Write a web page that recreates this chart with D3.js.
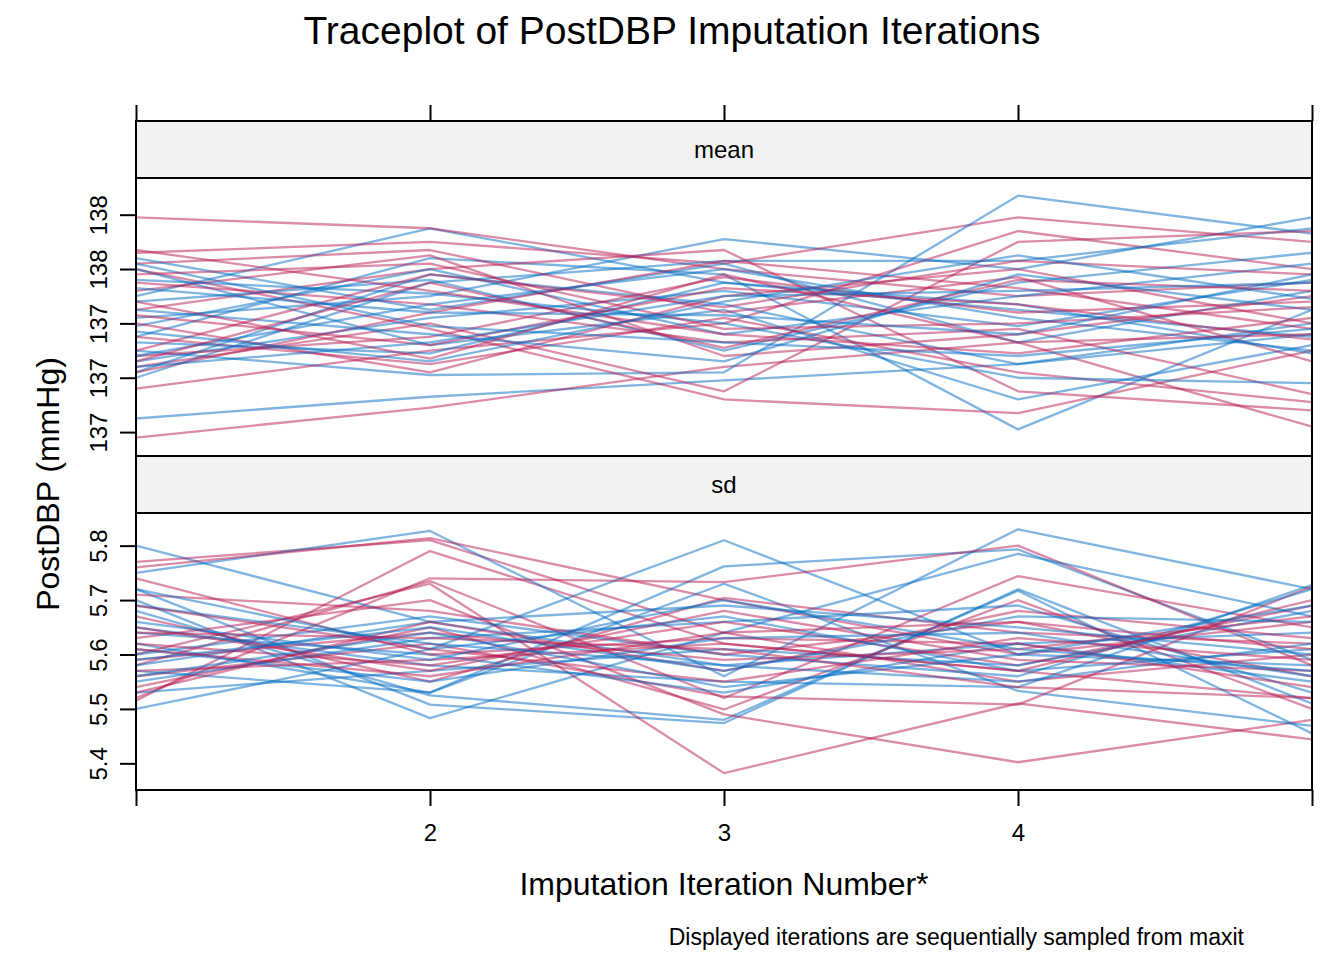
<!DOCTYPE html>
<html>
<head>
<meta charset="utf-8">
<script src="https://cdn.jsdelivr.net/npm/d3@7"></script>
<style>
  body { margin: 0; background: #fff; }
  svg text { font-family: "Liberation Sans", Arial, Helvetica, sans-serif; fill: #000; }
</style>
</head>
<body>
<div id="chart"></div>
<script>
const iterations = [1, 2, 3, 4, 5]
const xTickLabels = [2, 3, 4]
const chainColors = ['#006CC2', '#B61A51']

const meanTicks = [137.0, 137.2, 137.4, 137.6, 137.8]
const sdTicks = [5.4, 5.5, 5.6, 5.7, 5.8]

// one row per imputation chain, values at iterations 1..5
const meanChains = [
  [137.05, 137.13, 137.19, 137.25, 137.40],
  [136.98, 137.09, 137.24, 137.33, 137.02],
  [137.50, 137.75, 137.55, 137.45, 137.35],
  [137.79, 137.75, 137.60, 137.50, 137.55],
  [137.42, 137.50, 137.71, 137.60, 137.79],
  [137.66, 137.70, 137.62, 137.79, 137.70],
  [137.30, 137.21, 137.22, 137.87, 137.73],
  [137.16, 137.30, 137.40, 137.74, 137.60],
  [137.20, 137.55, 137.63, 137.63, 137.75],
  [137.24, 137.40, 137.15, 137.70, 137.74],
  [137.35, 137.64, 137.58, 137.01, 137.45],
  [137.60, 137.38, 137.12, 137.07, 137.30],
  [137.60, 137.32, 137.45, 137.12, 137.32],
  [137.45, 137.60, 137.67, 137.15, 137.08],
  [137.22, 137.58, 137.47, 137.25, 137.36],
  [137.35, 137.25, 137.42, 137.22, 137.11],
  [137.48, 137.56, 137.30, 137.55, 137.66],
  [137.55, 137.47, 137.33, 137.38, 137.14],
  [137.26, 137.42, 137.52, 137.39, 137.56],
  [137.62, 137.67, 137.44, 137.57, 137.26],
  [137.39, 137.60, 137.36, 137.50, 137.62],
  [137.28, 137.35, 137.57, 137.44, 137.48],
  [137.64, 137.45, 137.62, 137.33, 137.52],
  [137.40, 137.22, 137.50, 137.60, 137.40],
  [137.33, 137.29, 137.55, 137.47, 137.29],
  [137.52, 137.65, 137.28, 137.36, 137.50],
  [137.56, 137.51, 137.40, 137.20, 137.18],
  [137.22, 137.44, 137.63, 137.53, 137.38],
  [137.45, 137.36, 137.26, 137.58, 137.45],
  [137.67, 137.52, 137.36, 137.29, 137.42],
  [137.28, 137.47, 137.60, 137.42, 137.30],
  [137.30, 137.58, 137.46, 137.63, 137.58],
  [137.62, 137.39, 137.33, 137.28, 137.38],
  [137.43, 137.32, 137.53, 137.47, 137.34],
  [137.37, 137.26, 137.48, 137.65, 137.49],
  [137.58, 137.62, 137.38, 137.40, 137.46],
  [137.53, 137.44, 137.43, 137.36, 137.58],
  [137.26, 137.55, 137.31, 137.56, 137.52],
  [137.24, 137.33, 137.50, 137.52, 137.55],
  [137.48, 137.27, 137.58, 137.33, 137.36]
]

const sdChains = [
  [5.80, 5.66, 5.58, 5.62, 5.55],
  [5.77, 5.81, 5.64, 5.55, 5.60],
  [5.50, 5.61, 5.81, 5.60, 5.58],
  [5.515, 5.79, 5.62, 5.57, 5.52],
  [5.75, 5.827, 5.56, 5.83, 5.72],
  [5.76, 5.814, 5.70, 5.60, 5.66],
  [5.62, 5.53, 5.762, 5.793, 5.59],
  [5.52, 5.74, 5.733, 5.80, 5.58],
  [5.70, 5.483, 5.64, 5.785, 5.67],
  [5.58, 5.735, 5.52, 5.744, 5.65],
  [5.72, 5.508, 5.474, 5.72, 5.51],
  [5.60, 5.73, 5.382, 5.51, 5.444],
  [5.68, 5.525, 5.48, 5.717, 5.455],
  [5.63, 5.70, 5.49, 5.402, 5.48],
  [5.57, 5.53, 5.73, 5.533, 5.469],
  [5.54, 5.65, 5.499, 5.70, 5.50],
  [5.65, 5.58, 5.55, 5.54, 5.728],
  [5.56, 5.62, 5.523, 5.508, 5.725],
  [5.60, 5.67, 5.60, 5.56, 5.72],
  [5.67, 5.55, 5.704, 5.64, 5.62],
  [5.55, 5.63, 5.66, 5.69, 5.53],
  [5.71, 5.68, 5.60, 5.66, 5.56],
  [5.64, 5.60, 5.53, 5.62, 5.64],
  [5.62, 5.58, 5.66, 5.58, 5.69],
  [5.58, 5.66, 5.69, 5.65, 5.60],
  [5.74, 5.60, 5.63, 5.62, 5.54],
  [5.53, 5.57, 5.61, 5.58, 5.68],
  [5.53, 5.66, 5.57, 5.68, 5.63],
  [5.69, 5.62, 5.58, 5.55, 5.62],
  [5.65, 5.57, 5.68, 5.59, 5.57],
  [5.61, 5.55, 5.63, 5.64, 5.56],
  [5.59, 5.64, 5.59, 5.61, 5.67],
  [5.72, 5.61, 5.67, 5.57, 5.61],
  [5.69, 5.61, 5.55, 5.63, 5.59],
  [5.59, 5.65, 5.57, 5.67, 5.66],
  [5.57, 5.59, 5.62, 5.57, 5.70],
  [5.66, 5.59, 5.70, 5.61, 5.57],
  [5.61, 5.56, 5.64, 5.66, 5.61],
  [5.56, 5.64, 5.54, 5.60, 5.69],
  [5.64, 5.63, 5.61, 5.54, 5.52]
]

const width = 1344
const height = 960
const left = 136
const right = 1312
const stripH = 57
const tickLen = 16

const svg = d3.select('#chart').append('svg')
  .attr('width', width)
  .attr('height', height)

const x = d3.scaleLinear().domain([1, 5]).range([left, right])

const panels = [
  { name: 'mean', chains: meanChains, ticks: meanTicks, fmt: d3.format('.0f'), top: 121, bottom: 456, domain: [136.912, 137.935] },
  { name: 'sd', chains: sdChains, ticks: sdTicks, fmt: d3.format('.1f'), top: 456, bottom: 790, domain: [5.351, 5.860] }
]

const line = (y) => d3.line().x((d, i) => x(iterations[i])).y(d => y(d))

panels.forEach(p => {
  const plotTop = p.top + stripH
  const y = d3.scaleLinear().domain(p.domain).range([p.bottom, plotTop])

  // strip
  svg.append('rect')
    .attr('x', left).attr('y', p.top)
    .attr('width', right - left).attr('height', stripH)
    .attr('fill', '#f2f2f2')
  svg.append('text')
    .attr('x', (left + right) / 2).attr('y', p.top + 37)
    .attr('text-anchor', 'middle')
    .attr('font-size', 24)
    .text(p.name)

  // traces
  const g = svg.append('g')
  g.selectAll('path')
    .data(p.chains)
    .join('path')
    .attr('d', line(y))
    .attr('fill', 'none')
    .attr('stroke', (d, i) => chainColors[i % 2])
    .attr('stroke-opacity', 0.5)
    .attr('stroke-width', 2.3)
    .attr('stroke-linejoin', 'round')

  // left axis with rotated labels
  const ax = svg.append('g')
    .attr('transform', `translate(${left},0)`)
    .call(d3.axisLeft(y).tickValues(p.ticks).tickSize(tickLen).tickFormat(p.fmt))
  ax.select('.domain').remove()
  ax.selectAll('line').attr('stroke', '#000').attr('stroke-width', 2)
  ax.selectAll('text')
    .attr('font-size', 24)
    .attr('x', null).attr('dy', null).attr('y', 0)
    .attr('text-anchor', 'middle')
    .attr('transform', 'translate(-29,0) rotate(-90)')

  // borders
  svg.append('rect')
    .attr('x', left).attr('y', p.top)
    .attr('width', right - left).attr('height', p.bottom - p.top)
    .attr('fill', 'none').attr('stroke', '#000').attr('stroke-width', 2)
  svg.append('line')
    .attr('x1', left).attr('x2', right)
    .attr('y1', plotTop).attr('y2', plotTop)
    .attr('stroke', '#000').attr('stroke-width', 2)
})

// top axis (ticks only)
const topAx = svg.append('g')
  .attr('transform', `translate(0,${panels[0].top})`)
  .call(d3.axisTop(x).tickValues(iterations).tickSize(tickLen).tickFormat(''))
topAx.select('.domain').remove()
topAx.selectAll('line').attr('stroke', '#000').attr('stroke-width', 2)

// bottom axis
const botAx = svg.append('g')
  .attr('transform', `translate(0,${panels[1].bottom})`)
  .call(d3.axisBottom(x).tickValues(iterations).tickSize(tickLen)
    .tickFormat(d => xTickLabels.includes(d) ? d : ''))
botAx.select('.domain').remove()
botAx.selectAll('line').attr('stroke', '#000').attr('stroke-width', 2)
botAx.selectAll('text').attr('font-size', 24).attr('dy', null).attr('y', 51)

// titles
svg.append('text')
  .attr('x', width / 2).attr('y', 44)
  .attr('text-anchor', 'middle')
  .attr('font-size', 39)
  .text('Traceplot of PostDBP Imputation Iterations')

svg.append('text')
  .attr('x', (left + right) / 2).attr('y', 895)
  .attr('text-anchor', 'middle')
  .attr('font-size', 32)
  .text('Imputation Iteration Number*')

svg.append('text')
  .attr('transform', `translate(59,${(panels[0].top + stripH + panels[1].bottom) / 2}) rotate(-90)`)
  .attr('text-anchor', 'middle')
  .attr('font-size', 32)
  .text('PostDBP (mmHg)')

svg.append('text')
  .attr('x', 1244).attr('y', 945)
  .attr('text-anchor', 'end')
  .attr('font-size', 23)
  .text('Displayed iterations are sequentially sampled from maxit')
</script>
</body>
</html>
